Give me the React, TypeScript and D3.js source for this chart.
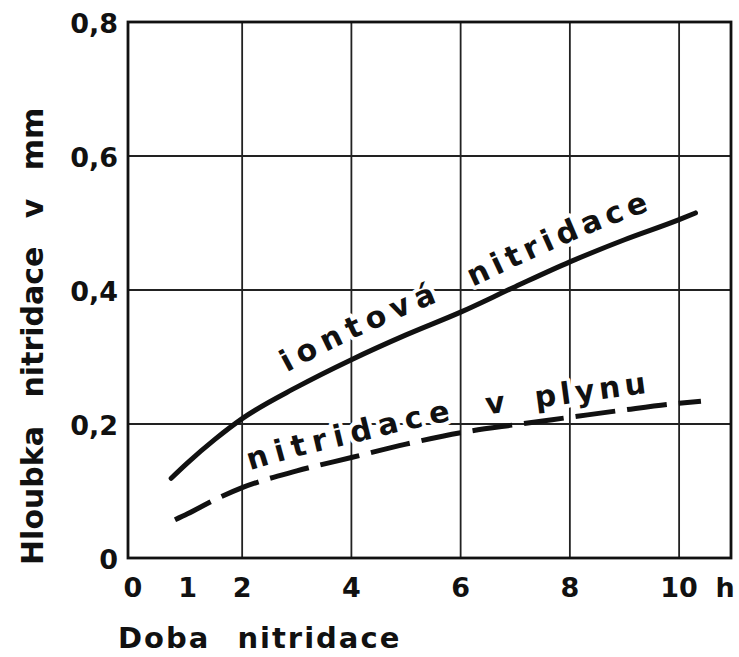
import React from 'react';
import * as d3 from 'd3';

// ---- data ----
const xTickValues = [0, 1, 2, 4, 6, 8, 10];
const xTickLabels = ['0', '1', '2', '4', '6', '8', '10'];
const yTickValues = [0, 0.2, 0.4, 0.6, 0.8];
const yTickLabels = ['0', '0,2', '0,4', '0,6', '0,8'];
const xGridValues = [2, 4, 6, 8, 10];
const yGridValues = [0.2, 0.4, 0.6];

const ionHours = [0.7, 1, 1.5, 2, 3, 4, 5, 6, 7, 8, 9, 10, 10.3];
const ionDepth = [0.119, 0.142, 0.177, 0.208, 0.255, 0.296, 0.333, 0.367, 0.405, 0.442, 0.475, 0.505, 0.515];
const gasHours = [0.77, 1, 1.5, 2, 3, 4, 5, 6, 7, 8, 9, 10, 10.4];
const gasDepth = [0.057, 0.066, 0.087, 0.105, 0.13, 0.15, 0.17, 0.187, 0.199, 0.21, 0.221, 0.231, 0.234];

const seriesNames = ['iontová nitridace', 'nitridace v plynu'];
const xAxisTitle = 'Doba nitridace';
const yAxisTitle = 'Hloubka nitridace v mm';
const xUnit = 'h';

const W = 739;
const H = 657;
const FONT = '"DejaVu Sans", "Liberation Sans", sans-serif';
const INK = '#111';

type P = [number, number];

function arcLengthTo(pts: P[], targetX: number): number {
  let L = 0;
  for (let i = 1; i < pts.length; i++) {
    const [x0, y0] = pts[i - 1];
    const [x1, y1] = pts[i];
    const seg = Math.hypot(x1 - x0, y1 - y0);
    if (x1 >= targetX) {
      const t = Math.max(0, (targetX - x0) / (x1 - x0));
      return L + t * seg;
    }
    L += seg;
  }
  return L;
}

export default function App() {
  const x = d3.scaleLinear().domain([-0.09, 10.95]).range([128, 731]);
  const y = d3.scaleLinear().domain([0, 0.8]).range([558, 22]);

  const ionData: P[] = ionHours.map((h, i) => [h, ionDepth[i]]);
  const gasData: P[] = gasHours.map((h, i) => [h, gasDepth[i]]);

  const line = d3
    .line<P>()
    .x((d) => x(d[0]))
    .y((d) => y(d[1]))
    .curve(d3.curveMonotoneX);

  const shifted = (dy: number) =>
    d3
      .line<P>()
      .x((d) => x(d[0]))
      .y((d) => y(d[1]) - dy)
      .curve(d3.curveMonotoneX);

  const ionLift = 20;
  const gasLift = 14;
  const ionLabelPath = shifted(ionLift)(ionData) || '';
  const gasLabelPath = shifted(gasLift)(gasData) || '';
  const ionPx: P[] = ionData.map((d) => [x(d[0]), y(d[1]) - ionLift]);
  const gasPx: P[] = gasData.map((d) => [x(d[0]), y(d[1]) - gasLift]);

  // each label word placed along its curve: [path id, pixel points, word, start hour, letter spacing]
  const ionWords = seriesNames[0].split(' ');
  const gasWords = seriesNames[1].split(' ');
  const words: [string, P[], string, number, number][] = [
    ['ionLabelPath', ionPx, ionWords[0], 2.82, 6.6],
    ['ionLabelPath', ionPx, ionWords[1], 6.22, 5.2],
    ['gasLabelPath', gasPx, gasWords[0], 2.15, 7],
    ['gasLabelPath', gasPx, gasWords[1], 6.48, 0],
    ['gasLabelPath', gasPx, gasWords[2], 7.38, 4.5],
  ];

  const labelStyle = {
    fontFamily: FONT,
    fontWeight: 700 as const,
    fontSize: 30,
    fill: INK,
    stroke: '#fff',
    strokeWidth: 8,
    strokeLinejoin: 'round' as const,
    paintOrder: 'stroke',
  };

  return (
    <svg
      width={W}
      height={H}
      viewBox={`0 0 ${W} ${H}`}
      style={{ position: 'absolute', left: 0, top: 0, background: '#fff' }}
    >
      <defs>
        <path id="ionLabelPath" d={ionLabelPath} />
        <path id="gasLabelPath" d={gasLabelPath} />
      </defs>
      <rect x={0} y={0} width={W} height={H} fill="#fff" />

      {/* grid */}
      <g stroke="#222" strokeWidth={1.8}>
        {xGridValues.map((v) => (
          <line key={'gx' + v} x1={x(v)} x2={x(v)} y1={y(0)} y2={y(0.8)} />
        ))}
        {yGridValues.map((v) => (
          <line key={'gy' + v} x1={x(-0.09)} x2={x(10.95)} y1={y(v)} y2={y(v)} />
        ))}
      </g>

      {/* frame */}
      <rect
        x={x(-0.09)}
        y={y(0.8)}
        width={x(10.95) - x(-0.09)}
        height={y(0) - y(0.8)}
        fill="none"
        stroke={INK}
        strokeWidth={2.8}
      />

      {/* curves */}
      <path d={line(ionData) || ''} fill="none" stroke={INK} strokeWidth={5} strokeLinecap="round" />
      <path
        d={line(gasData) || ''}
        fill="none"
        stroke={INK}
        strokeWidth={5}
        strokeDasharray="40 12"
        strokeLinecap="butt"
      />

      {/* curve labels */}
      {words.map(([id, pts, word, h, ls]) => (
        <text key={id + word} style={labelStyle} letterSpacing={ls}>
          <textPath href={'#' + id} startOffset={arcLengthTo(pts, x(h))}>
            {word}
          </textPath>
        </text>
      ))}

      {/* y tick labels */}
      <g fontFamily={FONT} fontWeight={700} fontSize={27} fill={INK} textAnchor="end">
        {yTickValues.map((v, i) => (
          <text key={'yt' + v} x={118} y={y(v) + 11}>
            {yTickLabels[i]}
          </text>
        ))}
      </g>

      {/* x tick labels */}
      <g fontFamily={FONT} fontWeight={700} fontSize={27} fill={INK} textAnchor="middle">
        {xTickValues.map((v, i) => (
          <text key={'xt' + v} x={x(v)} y={597}>
            {xTickLabels[i]}
          </text>
        ))}
        <text x={725} y={597}>
          {xUnit}
        </text>
      </g>

      {/* axis titles */}
      <text
        x={118}
        y={648}
        fontFamily={FONT}
        fontWeight={700}
        fontSize={29}
        fill={INK}
        letterSpacing={2}
        wordSpacing={15}
      >
        {xAxisTitle}
      </text>
      <text
        transform="translate(43,565) rotate(-90)"
        fontFamily={FONT}
        fontWeight={700}
        fontSize={30}
        fill={INK}
        wordSpacing={18}
      >
        {yAxisTitle}
      </text>
    </svg>
  );
}
